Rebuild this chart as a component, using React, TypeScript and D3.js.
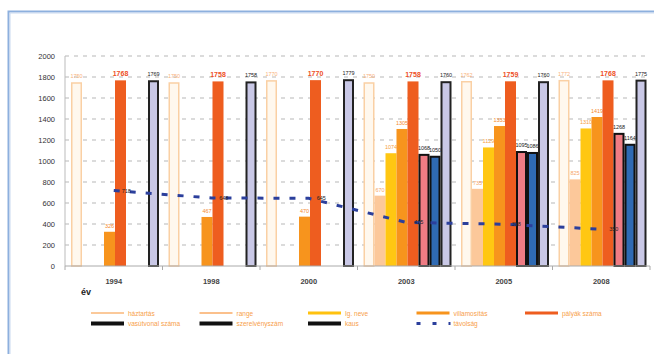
import React from "react";
import * as d3 from "d3";

const years = ["1994", "1998", "2000", "2003", "2005", "2008"];
const seriesNames = [
  "háztartás",
  "range",
  "Ig. neve",
  "villamosítás",
  "pályák száma",
  "vasútvonal száma",
  "szerelvényszám",
  "kaus",
];
const haztartas = [1750, 1750, 1770, 1750, 1762, 1772];
const range = [null, null, null, 670, 735, 825];
const igNeve = [null, null, null, 1074, 1129, 1310];
const villamos = [326, 467, 470, 1305, 1333, 1419];
const palyak = [1768, 1758, 1770, 1758, 1759, 1768];
const vasutvonal = [null, null, null, 1068, 1095, 1268];
const szerelveny = [null, null, null, 1050, 1086, 1164];
const kaus = [1769, 1758, 1779, 1760, 1760, 1775];
const lineName = "távolság";
const lineValues = [718, 648, 645, 415, 398, 350];
const yTicks = [0, 200, 400, 600, 800, 1000, 1200, 1400, 1600, 1800, 2000];

const seriesValues = [haztartas, range, igNeve, villamos, palyak, vasutvonal, szerelveny, kaus];
const fills = ["#FFF8EE", "#FCC89A", "#FFC712", "#F7941D", "#EE5D1F", "#EF7C84", "#2F6AB3", "#C9C8E6"];
const strokes = ["#FAD0A4", "none", "none", "none", "none", "#111", "#111", "#222"];
const labelColors = ["#F9B27A", "#F6A66A", "#F6A040", "#F58A2E", "#EE4F26", "#222", "#222", "#222"];
const legendSwatch = ["#FBC99A", "#FBC08C", "#FFC20E", "#F7941D", "#EE5D1F", "#111", "#111", "#111"];

export default function App() {
  const W = 654, H = 354;
  const x0 = d3.scaleBand<string>().domain(years).range([65, 650]).paddingInner(0).paddingOuter(0);
  const x1 = d3.scaleBand<number>().domain(d3.range(seriesNames.length)).range([6, 94]).padding(0);
  const y = d3.scaleLinear().domain([0, 2000]).range([266, 56]);
  const font = "'Liberation Sans', Arial, sans-serif";
  const lineGen = d3.line<number>()
    .x((_, i) => (x0(years[i]) as number) + x0.bandwidth() / 2)
    .y((v) => y(v));

  const legendItems = [...seriesNames.map((n, i) => ({ name: n, i })), { name: lineName, i: 8 }];

  return (
    <svg width={W} height={H} style={{ position: "absolute", left: 0, top: 0, background: "#fff" }}>
      <rect x={8.5} y={11.5} width={700} height={400} fill="none" stroke="#8DB0DE" strokeWidth={2} />
      <rect x={10} y={13} width={700} height={400} fill="none" stroke="#C9DAF0" strokeWidth={1} />
      {/* gridlines */}
      {yTicks.slice(1).map((t) => (
        <line key={t} x1={65} x2={650} y1={y(t)} y2={y(t)} stroke="#B8B8B8" strokeWidth={1.2} strokeDasharray="4,5" />
      ))}
      {/* y labels */}
      {yTicks.map((t) => (
        <text key={t} x={55} y={y(t) + 2.5} textAnchor="end" fontSize={7.5} fontFamily={font} fill="#333">{t}</text>
      ))}
      <line x1={65} x2={65} y1={56} y2={266} stroke="#BBB" strokeWidth={1} />
      {/* bars */}
      {seriesValues.map((vals, si) =>
        vals.map((v, ci) => {
          if (v == null) return null;
          const bx = (x0(years[ci]) as number) + (x1(si) as number);
          const bw = x1.bandwidth();
          const hasStroke = strokes[si] !== "none";
          const sw = si >= 5 ? 2 : 1.5;
          return (
            <g key={si + "-" + ci}>
              <rect
                x={hasStroke ? bx + sw / 2 : bx}
                y={hasStroke ? y(v) + sw / 2 : y(v)}
                width={hasStroke ? bw - sw : bw}
                height={hasStroke ? y(0) - y(v) - sw / 2 : y(0) - y(v)}
                fill={fills[si]}
                stroke={strokes[si]}
                strokeWidth={sw}
              />
              <text
                x={bx + bw / 2}
                y={y(v) - 4}
                textAnchor="middle"
                fontSize={si === 4 ? 7 : 5.5}
                fontWeight={si === 4 ? "bold" : "normal"}
                fontFamily={font}
                fill={labelColors[si]}
              >
                {v}
              </text>
            </g>
          );
        })
      )}
      {/* x axis */}
      <line x1={65} x2={650} y1={266} y2={266} stroke="#AAA" strokeWidth={1} />
      {years.map((yr, i) => (
        <g key={yr}>
          <line x1={(x0(yr) as number) + x0.bandwidth()} x2={(x0(yr) as number) + x0.bandwidth()} y1={266} y2={270} stroke="#AAA" />
          <text x={(x0(yr) as number) + x0.bandwidth() / 2} y={284} textAnchor="middle" fontSize={7.5} fontWeight="bold" fontFamily={font} fill="#444">{yr}</text>
        </g>
      ))}
      <line x1={65} x2={65} y1={266} y2={270} stroke="#AAA" />
      {/* line series */}
      <path d={lineGen(lineValues) as string} fill="none" stroke="#2B3F9C" strokeWidth={3} strokeDasharray="6,10" />
      {lineValues.map((v, i) => (
        <text key={i} x={(x0(years[i]) as number) + x0.bandwidth() / 2 + 8} y={y(v) + 2} fontSize={5.5} fontFamily={font} fill="#222">{v}</text>
      ))}
      <text x={81} y={295} fontSize={9} fontWeight="bold" fontFamily={font} fill="#222">év</text>
      {/* legend */}
      {legendItems.map((it, k) => {
        const row = k < 5 ? 0 : 1;
        const col = k < 5 ? k : k - 5;
        const lx = 91 + col * 108.5;
        const ly = row === 0 ? 313 : 323.5;
        const isLine = it.i === 8;
        const thick = it.i >= 5 ? 4 : it.i === 3 || it.i === 4 || it.i === 2 ? 2.8 : 2;
        return (
          <g key={it.name}>
            {isLine ? (
              <line x1={lx} x2={lx + 34} y1={ly} y2={ly} stroke="#2B3F9C" strokeWidth={3} strokeDasharray="4,12" />
            ) : (
              <line x1={lx} x2={lx + 33} y1={ly} y2={ly} stroke={legendSwatch[it.i]} strokeWidth={thick} />
            )}
            <text x={lx + 37} y={ly + 2.5} fontSize={6.5} fontFamily={font} fill="#F7A04A">{it.name}</text>
          </g>
        );
      })}
    </svg>
  );
}
